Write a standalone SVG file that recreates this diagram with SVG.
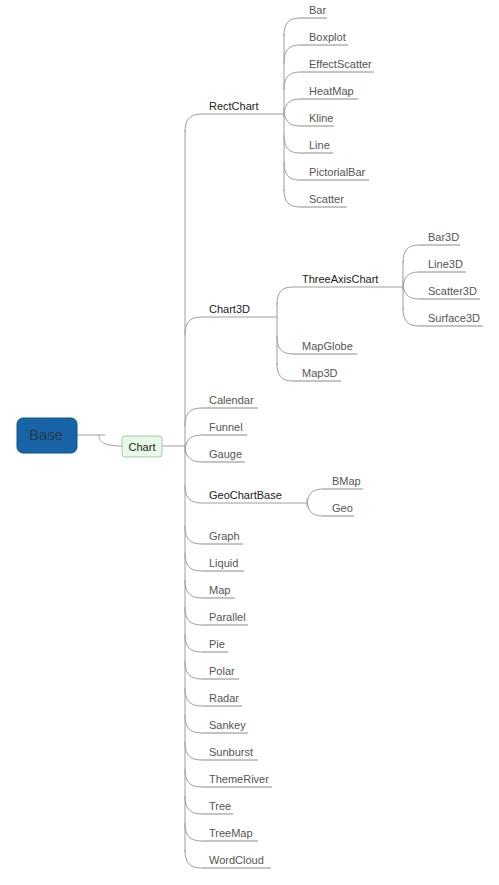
<svg xmlns="http://www.w3.org/2000/svg" width="499" height="885" viewBox="0 0 499 885">
<style>
.ln{fill:none;stroke:#9e9e9e;stroke-width:1}
.ul{fill:none;stroke:#8a8a8a;stroke-width:1}
.t{font-family:"Liberation Sans",Arial,sans-serif;font-size:11px;fill:#555}
.p{font-family:"Liberation Sans",Arial,sans-serif;font-size:11px;fill:#222}
</style>
<rect width="499" height="885" fill="#fff"/>
<g id="connectors">
<path class="ln" d="M77,435 H105 M99,435 C99,442 104,446 122,446"/>
<path class="ln" d="M162,446 H185"/>
<path class="ln" d="M185,130 V852"/>
<path class="ln" d="M185,132 C185,120 189,114 202,114 H284"/>
<path class="ln" d="M185,335 C185,323 189,317 202,317 H277"/>
<path class="ln" d="M185,426 C185,414 189,408 202,408"/>
<path class="ln" d="M185,453 C185,441 189,435 202,435"/>
<path class="ln" d="M185,444 C185,456 189,462 202,462"/>
<path class="ln" d="M185,485 C185,497 189,503 202,503 H307"/>
<path class="ln" d="M185,526 C185,538 189,544 202,544"/>
<path class="ln" d="M185,553 C185,565 189,571 202,571"/>
<path class="ln" d="M185,580 C185,592 189,598 202,598"/>
<path class="ln" d="M185,607 C185,619 189,625 202,625"/>
<path class="ln" d="M185,634 C185,646 189,652 202,652"/>
<path class="ln" d="M185,661 C185,673 189,679 202,679"/>
<path class="ln" d="M185,688 C185,700 189,706 202,706"/>
<path class="ln" d="M185,715 C185,727 189,733 202,733"/>
<path class="ln" d="M185,742 C185,754 189,760 202,760"/>
<path class="ln" d="M185,769 C185,781 189,787 202,787"/>
<path class="ln" d="M185,796 C185,808 189,814 202,814"/>
<path class="ln" d="M185,823 C185,835 189,841 202,841"/>
<path class="ln" d="M185,850 C185,862 189,868 202,868"/>
<!-- RectChart children -->
<path class="ln" d="M284,34 V191"/>
<path class="ln" d="M284,36 C284,24 288,18 300,18"/>
<path class="ln" d="M284,63 C284,51 288,45 300,45"/>
<path class="ln" d="M284,90 C284,78 288,72 300,72"/>
<path class="ln" d="M284,117 C284,105 288,99 300,99"/>
<path class="ln" d="M284,108 C284,120 288,126 300,126"/>
<path class="ln" d="M284,135 C284,147 288,153 300,153"/>
<path class="ln" d="M284,162 C284,174 288,180 300,180"/>
<path class="ln" d="M284,189 C284,201 288,207 300,207"/>
<!-- Chart3D children -->
<path class="ln" d="M277,303 V365"/>
<path class="ln" d="M277,305 C277,293 281,287 293,287 H403"/>
<path class="ln" d="M277,336 C277,348 281,354 293,354"/>
<path class="ln" d="M277,363 C277,375 281,381 293,381"/>
<!-- ThreeAxisChart children -->
<path class="ln" d="M403,261 V310"/>
<path class="ln" d="M403,263 C403,251 407,245 419,245"/>
<path class="ln" d="M403,290 C403,278 407,272 419,272"/>
<path class="ln" d="M403,281 C403,293 407,299 419,299"/>
<path class="ln" d="M403,308 C403,320 407,326 419,326"/>
<!-- GeoChartBase children -->
<path class="ln" d="M307,507 C307,495 311,489 323,489"/>
<path class="ln" d="M307,498 C307,510 311,516 323,516"/>
<!-- underlines -->
<path class="ul" d="M300,18 H327 M300,45 H348 M300,72 H374 M300,99 H358 M300,126 H334 M300,153 H333 M300,180 H369 M300,207 H347"/>
<path class="ul" d="M419,245 H460 M419,272 H466 M419,299 H480 M419,326 H483"/>
<path class="ul" d="M293,354 H357 M293,381 H341"/>
<path class="ul" d="M323,489 H363 M323,516 H354"/>
<path class="ul" d="M202,408 H258 M202,435 H247 M202,462 H245 M202,544 H243 M202,571 H244 M202,598 H235 M202,625 H248 M202,652 H228 M202,679 H239 M202,706 H242 M202,733 H248 M202,760 H258 M202,787 H272 M202,814 H233 M202,841 H258 M202,868 H271"/>
</g>
<g id="base"><rect x="17" y="418" width="60" height="35" rx="6" fill="#1765a6" stroke="#0e548e"/><text x="46" y="440" text-anchor="middle" font-family="Liberation Sans,Arial,sans-serif" font-size="15" fill="#26394b">Base</text></g>
<g id="chart"><rect x="122" y="436" width="40" height="21" rx="3" fill="#e7f9e7" stroke="#a9c6a9"/><text x="142" y="450.5" text-anchor="middle" class="p">Chart</text></g>
<g id="rectchart"><text x="209" y="110" class="p">RectChart</text></g>
<g id="bar"><text x="309" y="14" class="t">Bar</text></g>
<g id="boxplot"><text x="309" y="41" class="t">Boxplot</text></g>
<g id="effectscatter"><text x="309" y="68" class="t">EffectScatter</text></g>
<g id="heatmap"><text x="309" y="95" class="t">HeatMap</text></g>
<g id="kline"><text x="309" y="122" class="t">Kline</text></g>
<g id="line"><text x="309" y="149" class="t">Line</text></g>
<g id="pictorialbar"><text x="309" y="176" class="t">PictorialBar</text></g>
<g id="scatter"><text x="309" y="203" class="t">Scatter</text></g>
<g id="chart3d"><text x="209" y="313" class="p">Chart3D</text></g>
<g id="threeaxischart"><text x="302" y="283" class="p">ThreeAxisChart</text></g>
<g id="bar3d"><text x="428" y="241" class="t">Bar3D</text></g>
<g id="line3d"><text x="428" y="268" class="t">Line3D</text></g>
<g id="scatter3d"><text x="428" y="295" class="t">Scatter3D</text></g>
<g id="surface3d"><text x="428" y="322" class="t">Surface3D</text></g>
<g id="mapglobe"><text x="302" y="350" class="t">MapGlobe</text></g>
<g id="map3d"><text x="302" y="377" class="t">Map3D</text></g>
<g id="calendar"><text x="209" y="404" class="t">Calendar</text></g>
<g id="funnel"><text x="209" y="431" class="t">Funnel</text></g>
<g id="gauge"><text x="209" y="458" class="t">Gauge</text></g>
<g id="geochartbase"><text x="209" y="499" class="p">GeoChartBase</text></g>
<g id="bmap"><text x="332" y="485" class="t">BMap</text></g>
<g id="geo"><text x="332" y="512" class="t">Geo</text></g>
<g id="graph"><text x="209" y="540" class="t">Graph</text></g>
<g id="liquid"><text x="209" y="567" class="t">Liquid</text></g>
<g id="map"><text x="209" y="594" class="t">Map</text></g>
<g id="parallel"><text x="209" y="621" class="t">Parallel</text></g>
<g id="pie"><text x="209" y="648" class="t">Pie</text></g>
<g id="polar"><text x="209" y="675" class="t">Polar</text></g>
<g id="radar"><text x="209" y="702" class="t">Radar</text></g>
<g id="sankey"><text x="209" y="729" class="t">Sankey</text></g>
<g id="sunburst"><text x="209" y="756" class="t">Sunburst</text></g>
<g id="themeriver"><text x="209" y="783" class="t">ThemeRiver</text></g>
<g id="tree"><text x="209" y="810" class="t">Tree</text></g>
<g id="treemap"><text x="209" y="837" class="t">TreeMap</text></g>
<g id="wordcloud"><text x="209" y="864" class="t">WordCloud</text></g>
</svg>
